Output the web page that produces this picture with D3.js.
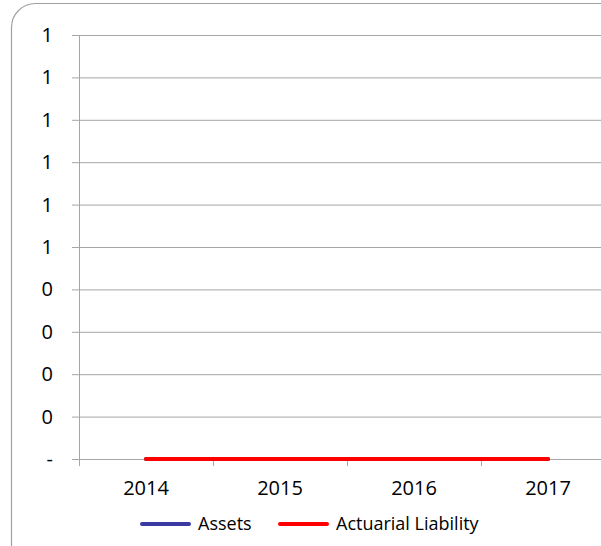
<!DOCTYPE html>
<html>
<head>
<meta charset="utf-8">
<script src="https://cdn.jsdelivr.net/npm/d3@7"></script>
<style>
  body { margin: 0; background: #fff; }
  text { font-family: 'Open Sans', sans-serif; fill: #000; }
</style>
</head>
<body>
<div id="chart"></div>
<script>
// chart values
const years = ['2014', '2015', '2016', '2017'];
const assets = [0, 0, 0, 0];
const actuarialLiability = [0, 0, 0, 0];
const yTicks = [0, 0.1, 0.2, 0.3, 0.4, 0.5, 0.6, 0.7, 0.8, 0.9, 1];
const yTickLabels = ['-', '0', '0', '0', '0', '1', '1', '1', '1', '1', '1'];
const seriesNames = ['Assets', 'Actuarial Liability'];
const seriesColors = ['#3a3aa2', '#ff0000'];

let frame = { width: 601, height: 546 },
    plot = { left: 79, right: 615, top: 35, bottom: 459 },
    gridColor = '#a6a6a6',
    svg, xScale, yScale, line;

svg = d3.select('#chart')
    .append('svg')
    .attr('width', frame.width)
    .attr('height', frame.height);

// outer rounded frame (runs past the right / bottom edge)
svg.append('rect')
    .attr('x', 11.5)
    .attr('y', 3.5)
    .attr('width', 620)
    .attr('height', 570)
    .attr('rx', 24)
    .attr('fill', 'none')
    .attr('stroke', '#a0a0a0')
    .attr('stroke-width', 1.2);

xScale = d3.scaleBand()
    .domain(years)
    .range([plot.left, plot.right]);

yScale = d3.scaleLinear()
    .domain([0, 1])
    .range([plot.bottom, plot.top]);

// horizontal gridlines + y labels
let yAxis = d3.axisLeft(yScale)
    .tickValues(yTicks)
    .tickSize(-(plot.right - plot.left))
    .tickFormat((d, i) => yTickLabels[i]);

let yG = svg.append('g')
    .attr('transform', `translate(${plot.left},0)`)
    .call(yAxis);
yG.select('.domain').remove();
yG.selectAll('.tick line')
    .attr('x1', -7)
    .attr('stroke', gridColor);
yG.selectAll('.tick text')
    .attr('x', -26)
    .style('font-size', '20px');

// left axis line
svg.append('line')
    .attr('x1', plot.left + 0.5).attr('x2', plot.left + 0.5)
    .attr('y1', plot.top).attr('y2', plot.bottom + 7)
    .attr('stroke', gridColor);

// x ticks at category boundaries
let bounds = years.map(d => xScale(d)).concat([xScale(years[years.length - 1]) + xScale.bandwidth()]);
svg.append('g')
    .selectAll('line')
    .data(bounds)
    .enter()
    .append('line')
    .attr('x1', d => Math.round(d) + 0.5)
    .attr('x2', d => Math.round(d) + 0.5)
    .attr('y1', plot.bottom)
    .attr('y2', plot.bottom + 7)
    .attr('stroke', gridColor);

svg.append('g')
    .selectAll('text')
    .data(years)
    .enter()
    .append('text')
    .attr('x', d => xScale(d) + xScale.bandwidth() / 2)
    .attr('y', 495)
    .attr('text-anchor', 'middle')
    .style('font-size', '20px')
    .text(d => d);

// series lines
line = d3.line()
    .x((d, i) => xScale(years[i]) + xScale.bandwidth() / 2)
    .y(d => yScale(d));

[assets, actuarialLiability].forEach((vals, i) => {
    svg.append('path')
        .datum(vals)
        .attr('d', line)
        .attr('fill', 'none')
        .attr('stroke', seriesColors[i])
        .attr('stroke-width', 4)
        .attr('stroke-linecap', 'round');
});

// legend
let legendItems = [{ x: 142 }, { x: 280 }];
legendItems.forEach((item, i) => {
    svg.append('line')
        .attr('x1', item.x).attr('x2', item.x + 47)
        .attr('y1', 524).attr('y2', 524)
        .attr('stroke', seriesColors[i])
        .attr('stroke-width', 4)
        .attr('stroke-linecap', 'round');
    svg.append('text')
        .attr('x', item.x + 56)
        .attr('y', 530)
        .style('font-size', '18px')
        .text(seriesNames[i]);
});
</script>
</body>
</html>
